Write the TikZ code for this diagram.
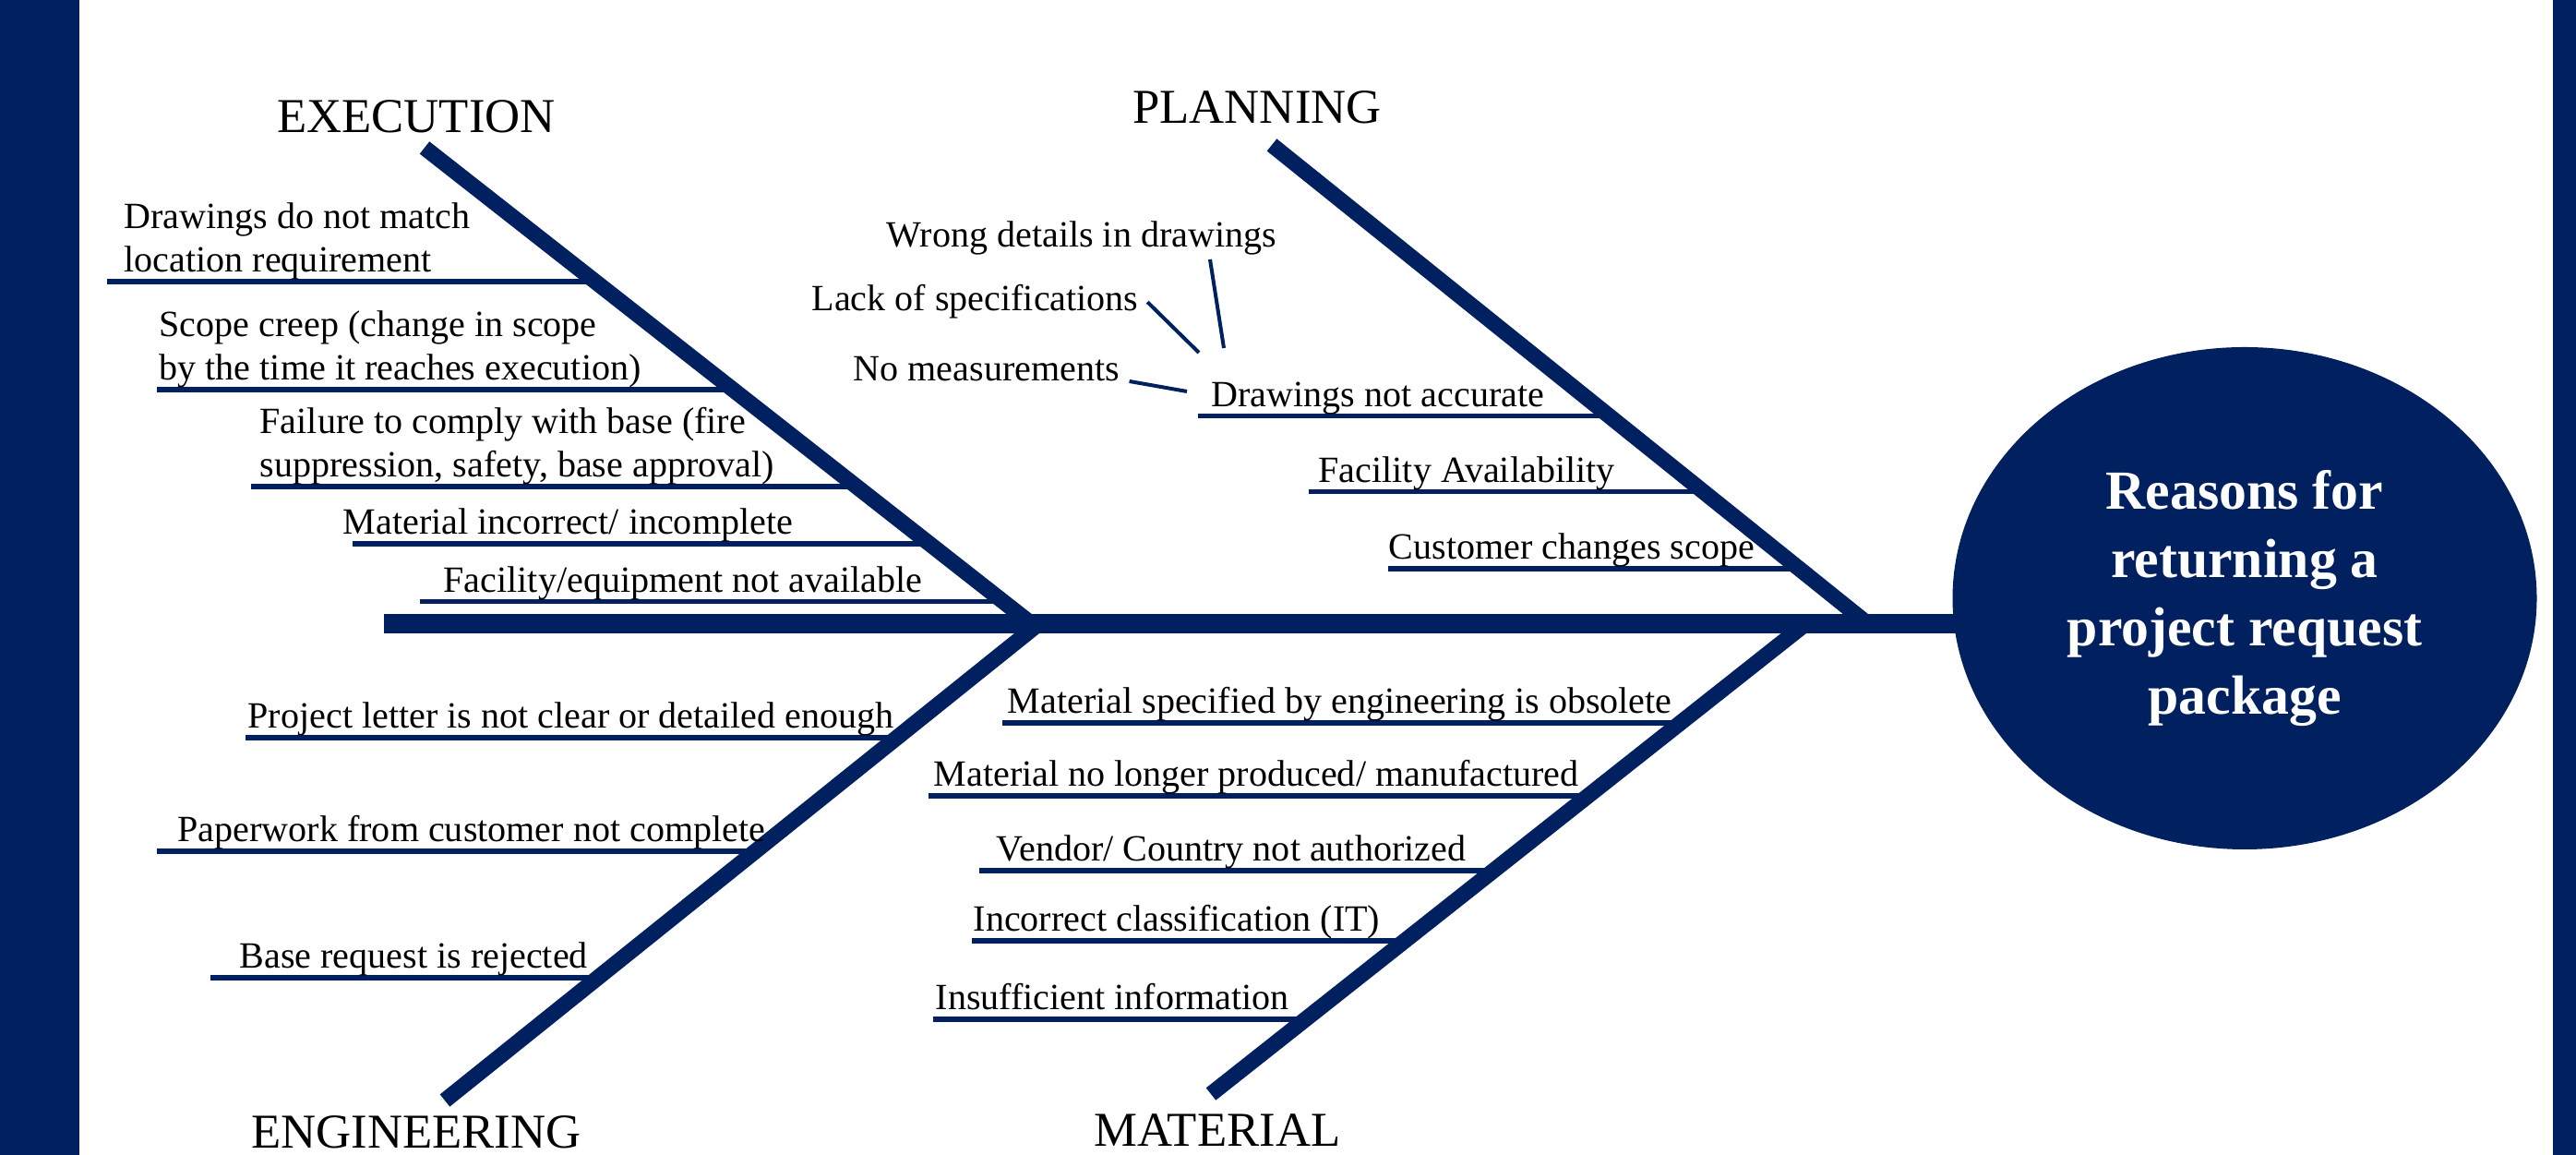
\documentclass[tikz,border=0pt]{standalone}
\usepackage{fontspec}
\setmainfont{Liberation Serif}
\usetikzlibrary{calc,shapes.geometric}
\definecolor{navy}{RGB}{0,32,96}

\begin{document}
\begin{tikzpicture}[
        bone/.style={navy, line width=1.7mm},
        spine/.style={navy, line width=2.1mm},
        rib/.style={navy, line width=0.55mm},
        twig/.style={navy, line width=0.4mm},
        cause/.style={anchor=base west, inner sep=0pt, font=\fontsize{11.4}{13.4}\selectfont},
        cause2/.style={anchor=south west, inner sep=0pt, align=left, font=\fontsize{11.4}{13.4}\selectfont},
        group/.style={anchor=base, inner sep=0pt, font=\fontsize{15}{18}\selectfont}
    ]
        \useasboundingbox (0,0) rectangle (27.91,12.51);

        % Side bars
        \fill[navy] (0,0) rectangle (0.86,12.51);
        \fill[navy] (27.66,0) rectangle (27.91,12.51);

        % Spine and head
        \coordinate (tail) at (4.16,5.75);
        \node[ellipse, fill=navy, minimum width=6.33cm, minimum height=5.44cm, inner sep=0pt,
            text=white, align=center, font=\bfseries\fontsize{17}{21}\selectfont]
            (head) at (24.32,6.03) {Reasons for\\returning a\\project request\\package};
        \draw[spine] (tail) -- ([xshift=1mm]tail -| head.west);

        % Main bones
        \coordinate (exTop) at (4.60,10.91);
        \coordinate (exFoot) at (11.18,5.75);
        \coordinate (plTop) at (13.78,10.94);
        \coordinate (plFoot) at (20.24,5.75);
        \coordinate (enTop) at (11.25,5.75);
        \coordinate (enBot) at (4.82,0.59);
        \coordinate (maTop) at (19.56,5.75);
        \coordinate (maBot) at (13.12,0.66);
        \draw[bone] (exTop) -- (exFoot);
        \draw[bone] (plTop) -- (plFoot);
        \draw[bone] (enTop) -- (enBot);
        \draw[bone] (maTop) -- (maBot);

        % Group names
        \node[group] (exec) at (4.51,11.07) {EXECUTION};
        \node[group] (plan) at (13.62,11.17) {PLANNING};
        \node[group] (eng) at (4.51,0.07) {ENGINEERING};
        \node[group] (mat) at (13.19,0.09) {MATERIAL};

        % Execution
        \path (exTop) -- (exFoot)
            coordinate[pos=0.281] (ex1) coordinate[pos=0.508] (ex2) coordinate[pos=0.711] (ex3)
            coordinate[pos=0.831] (ex4) coordinate[pos=0.953] (ex5);
        \draw[rib] (ex1) -- (ex1 -| 1.16,0);
        \draw[rib] (ex2) -- (ex2 -| 1.70,0);
        \draw[rib] (ex3) -- (ex3 -| 2.72,0);
        \draw[rib] (ex4) -- (ex4 -| 3.82,0);
        \draw[rib] (ex5) -- (ex5 -| 4.55,0);
        \node[cause2] (e1) at (1.34,9.47) {Drawings do not match\\location requirement};
        \node[cause2] (e2) at (1.72,8.30) {Scope creep (change in scope\\by the time it reaches execution)};
        \node[cause2] (e3) at (2.81,7.25) {Failure to comply with base (fire\\suppression, safety, base approval)};
        \node[cause] (e4) at (3.71,6.72) {Material incorrect/ incomplete};
        \node[cause] (e5) at (4.80,6.09) {Facility/equipment not available};

        % Planning
        \path (plTop) -- (plFoot)
            coordinate[pos=0.566] (pl1) coordinate[pos=0.724] (pl2) coordinate[pos=0.884] (pl3);
        \draw[rib] (pl1) -- (pl1 -| 12.98,0);
        \draw[rib] (pl2) -- (pl2 -| 14.18,0);
        \draw[rib] (pl3) -- (pl3 -| 15.04,0);
        \node[cause] (dna) at (13.12,8.10) {Drawings not accurate};
        \node[cause] (p2) at (14.28,7.28) {Facility Availability};
        \node[cause] (p3) at (15.04,6.45) {Customer changes scope};

        % Why the drawings are not accurate
        \node[cause] (wrong) at (9.60,9.83) {Wrong details in drawings};
        \node[cause] (lack) at (8.79,9.14) {Lack of specifications};
        \node[cause] (nomeas) at (9.24,8.38) {No measurements};
        \draw[twig] ([shift={(3.51,-0.13)}]wrong.base west) -- ([shift={(0.14,0.64)}]dna.base west);
        \draw[twig] ([xshift=0.9mm]lack.east) -- ([shift={(-0.13,0.59)}]dna.base west);
        \draw[twig] ([xshift=1mm]nomeas.base east) -- ([shift={(-0.26,0.17)}]dna.base west);

        % Engineering
        \path (enTop) -- (enBot)
            coordinate[pos=0.238] (en1) coordinate[pos=0.477] (en2) coordinate[pos=0.742] (en3);
        \draw[rib] (en1) -- (en1 -| 2.66,0);
        \draw[rib] (en2) -- (en2 -| 1.70,0);
        \draw[rib] (en3) -- (en3 -| 2.28,0);
        \node[cause] (g1) at (2.68,4.62) {Project letter is not clear or detailed enough};
        \node[cause] (g2) at (1.92,3.39) {Paperwork from customer not complete};
        \node[cause] (g3) at (2.59,2.02) {Base request is rejected};

        % Material
        \path (maTop) -- (maBot)
            coordinate[pos=0.210] (ma1) coordinate[pos=0.365] (ma2) coordinate[pos=0.525] (ma3)
            coordinate[pos=0.674] (ma4) coordinate[pos=0.841] (ma5);
        \draw[rib] (ma1) -- (ma1 -| 10.86,0);
        \draw[rib] (ma2) -- (ma2 -| 10.06,0);
        \draw[rib] (ma3) -- (ma3 -| 10.61,0);
        \draw[rib] (ma4) -- (ma4 -| 10.53,0);
        \draw[rib] (ma5) -- (ma5 -| 10.11,0);
        \node[cause] (m1) at (10.91,4.78) {Material specified by engineering is obsolete};
        \node[cause] (m2) at (10.11,3.99) {Material no longer produced/ manufactured};
        \node[cause] (m3) at (10.79,3.18) {Vendor/ Country not authorized};
        \node[cause] (m4) at (10.54,2.42) {Incorrect classification (IT)};
        \node[cause] (m5) at (10.13,1.57) {Insufficient information};
    \end{tikzpicture}
\end{document}
